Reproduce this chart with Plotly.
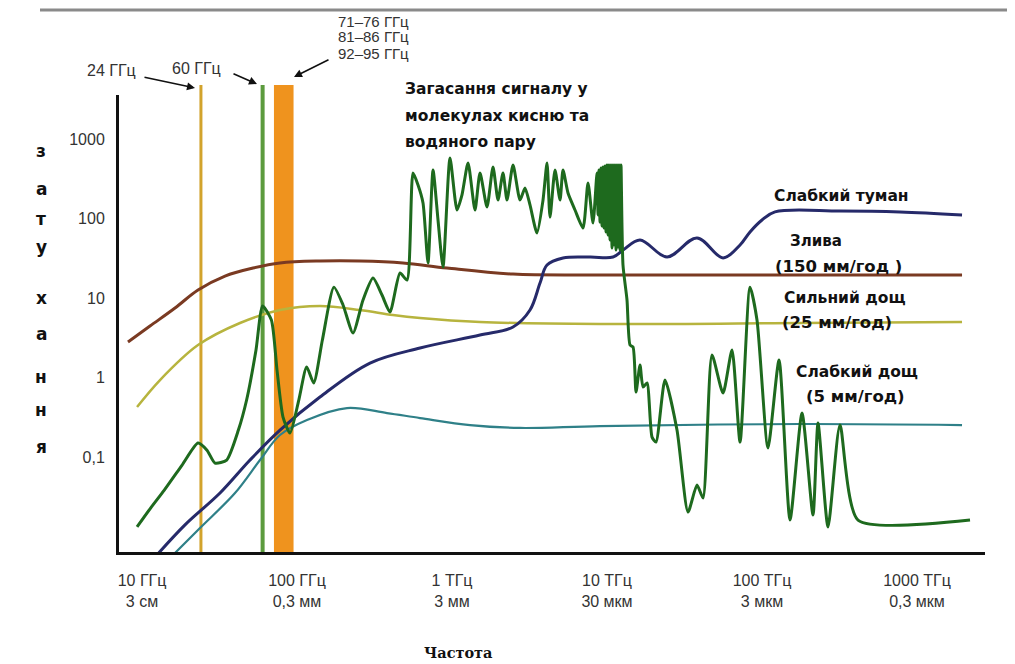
import plotly.graph_objects as go

# ---------------- data (frequency in GHz, attenuation in dB/km) ----------------
tick_freqs = [10, 100, 1000, 10000, 100000, 1000000]
tick_labels = ["10 ГГц<br>3 см", "100 ГГц<br>0,3 мм", "1 ТГц<br>3 мм",
               "10 ТГц<br>30 мкм", "100 ТГц<br>3 мкм", "1000 ТГц<br>0,3 мкм"]
att_ticks = [0.1, 1, 10, 100, 1000]
att_tick_labels = ["0,1", "1", "10", "100", "1000"]

line_24_ghz = 24
line_60_ghz = 60
band_e_ghz = [71, 95]

# Злива (150 мм/год)
heavy_f = [8.12, 11.26, 16.33, 22.98, 34.31, 52.02, 77.68, 140.7, 255, 483, 928, 2476, 9014, 175900, 1952000]
heavy_a = [2.80, 4.44, 7.48, 12.6, 18.9, 23.8, 27.6, 29.2, 29.2, 27.6, 23.8, 20.0, 19.5, 19.5, 19.5]

# Сильний дощ (25 мм/год)
strong_f = [9.29, 13.07, 22.98, 42.88, 77.68, 140.7, 255, 416, 622, 1516, 9014, 175900, 1952000]
strong_a = [0.425, 0.93, 2.56, 4.85, 7.06, 7.93, 7.06, 6.11, 5.60, 4.99, 4.71, 4.85, 4.99]

# Слабкий дощ (5 мм/год)
light_f = [15.61, 23.67, 39.81, 57.73, 77.68, 116, 210.2, 380.7, 622, 1307, 2746, 9014, 175900, 1952000]
light_a = [0.00568, 0.0128, 0.0352, 0.0916, 0.189, 0.292, 0.413, 0.357, 0.309, 0.252, 0.232, 0.245, 0.260, 0.252]

# Слабкий туман
fog_f = [12.31, 18.94, 31.86, 49.76, 77.68, 140.7, 295.8, 622, 1516, 2476, 3186, 3697, 4102, 5202, 7769,
         10932, 12680, 16330, 24390, 38070, 56040, 72180, 83700, 100000, 121300, 318600, 776800, 1952000]
fog_a = [0.00568, 0.0140, 0.0352, 0.0916, 0.218, 0.568, 1.52, 2.35, 3.42, 4.32, 7.06, 15.4, 26.0, 31.9, 32.8,
         32.8, 40.1, 53.7, 32.8, 56.9, 31.9, 46.4, 67.7, 95.7, 121, 124, 121, 111]

# Загасання в молекулах кисню та водяного пару
gas_f = [9.29, 11.36, 13.93, 18.14, 22.98, 26.26, 29.58, 35.19, 41.87, 47.30, 54.39, 60.0, 68.35, 74.30,
         81.23, 90.11, 102.7, 115.5, 128.2, 145.8, 173.0, 198.1, 229.8, 266.6, 309.3, 353.5, 398.1, 461.9,
         512.6, 560.4, 603.6, 650.2, 700.3, 754.4, 812.3, 874.9, 970.7, 1077, 1160, 1269, 1407, 1516, 1682,
         1839, 1981, 2133, 2264, 2476, 2746, 2958, 3186, 3535, 3866, 4102, 4289, 4619, 4976, 5202, 5603,
         6216, 7003, 7542, 8123,
         8620, 8749, 8880, 9013, 9148, 9285, 9424, 9565, 9708, 9853, 10000, 10150, 10302, 10456, 10612,
         10771, 10932, 11096, 11262, 11430, 11601, 11775, 11951, 12130, 12311,
         12680, 13460, 14080, 14720, 15390, 16330, 17080, 18120, 19520, 20710, 23670, 28290, 33320, 38070,
         41630, 47580, 56040, 64060, 72180, 83700, 92840, 109300, 128800, 151600, 181200, 213300, 229800,
         266600, 318600, 416300, 2198000]
gas_a = [0.0132, 0.0228, 0.0384, 0.0793, 0.150, 0.122, 0.0840, 0.0916, 0.218, 0.521, 2.22, 7.93, 5.29, 1.24,
         0.318, 0.200, 0.521, 1.36, 0.853, 2.96, 13.7, 8.17, 3.63, 9.44, 17.8, 10.9, 6.66, 20.6,
         16.8, 374, 264, 157, 27.6, 407, 95.7, 24.5, 577, 128, 198, 499, 128, 374, 140,
         444, 171, 374, 171, 471, 171, 242, 148, 65.7, 171, 499, 104, 407, 171, 407, 209,
         128, 75.9, 280, 87.8,
         374, 111, 407, 90.3, 432, 80.5, 444, 75.9, 457, 67.7, 471, 62.0, 471, 53.7, 471,
         42.5, 471, 46.4, 471, 40.1, 471, 43.8, 471, 40.1, 471,
         26.0, 9.44, 2.56, 2.42, 0.657, 1.44, 0.759, 0.853, 0.178, 0.154, 0.93, 0.218, 0.0203, 0.0444,
         0.0305, 1.92, 0.638, 2.22, 0.154, 13.7, 5.29, 0.130, 1.66, 0.0161, 0.357, 0.0186, 0.268,
         0.0132, 0.252, 0.0161, 0.0161]

# ---------------- figure ----------------
PAGE_OFF = 8              # default body margin of the html page
W, H = 1007, 656
L, R, T, B = 111, 30, 87, 112
PW, PH = W - L - R, H - T - B


def px(xpage):
    return (xpage - PAGE_OFF - L) / PW


def py(ypage):
    return (H - B - (ypage - PAGE_OFF)) / PH


fig = go.Figure()

fig.add_trace(go.Scatter(x=heavy_f, y=heavy_a, mode="lines", line=dict(color="#7A3A22", width=3, shape="spline"),
                         name="Злива"))
fig.add_trace(go.Scatter(x=strong_f, y=strong_a, mode="lines", line=dict(color="#B7B43E", width=2.5, shape="spline"),
                         name="Сильний дощ"))
fig.add_trace(go.Scatter(x=light_f, y=light_a, mode="lines", line=dict(color="#2F8088", width=2.2, shape="spline"),
                         name="Слабкий дощ"))
fig.add_trace(go.Scatter(x=fog_f, y=fog_a, mode="lines", line=dict(color="#262A6A", width=3, shape="spline"),
                         name="Слабкий туман"))
fig.add_trace(go.Scatter(x=gas_f, y=gas_a, mode="lines",
                         line=dict(color="#1E6A1E", width=3, shape="spline", smoothing=0.6),
                         name="Кисень та водяна пара"))

top_ext = 1 + 10 / PH
shapes = [
    dict(type="line", xref="x", yref="paper", x0=line_24_ghz, x1=line_24_ghz, y0=0, y1=top_ext,
         line=dict(color="#D2A32C", width=3), layer="below"),
    dict(type="line", xref="x", yref="paper", x0=line_60_ghz, x1=line_60_ghz, y0=0, y1=top_ext,
         line=dict(color="#5C9B3E", width=4), layer="below"),
    dict(type="rect", xref="x", yref="paper", x0=band_e_ghz[0], x1=band_e_ghz[1], y0=0, y1=top_ext,
         fillcolor="#EF931E", line=dict(width=0), layer="below"),
    dict(type="line", xref="paper", yref="paper", x0=px(40), x1=px(1015), y0=py(10), y1=py(10),
         line=dict(color="#8A8A8A", width=3)),
]

ann = []
small_font = dict(family="Liberation Sans Narrow, Arial Narrow, Liberation Sans, sans-serif", size=16,
                  color="#333333")


def add_text(text, xpage, ypage, font, xanchor="center"):
    ann.append(dict(x=px(xpage), y=py(ypage), xref="paper", yref="paper", text=text, showarrow=False,
                    xanchor=xanchor, yanchor="middle", font=font))


add_text("24 ГГц", 111, 71, small_font)
add_text("60 ГГц", 196, 68, small_font)
top_font = dict(small_font)
top_font["size"] = 15
for txt, yy in [("71–76 ГГц", 21), ("81–86 ГГц", 37), ("92–95 ГГц", 53)]:
    add_text(txt, 373, yy, top_font)

arrow_style = dict(showarrow=True, arrowhead=2, arrowsize=1, arrowwidth=1.6, arrowcolor="#111111",
                   xref="paper", yref="paper", text="", standoff=0, startstandoff=0)
ann.append(dict(x=px(195), y=py(88), ax=-52, ay=-11, **arrow_style))
ann.append(dict(x=px(257), y=py(84), ax=-25, ay=-11, **arrow_style))
ann.append(dict(x=px(294), y=py(77), ax=36, ay=-18, **arrow_style))

bold_font = dict(family="DejaVu Sans", size=15.5, color="#111111", weight="bold")
for txt, yy in [("Загасання сигналу у", 89), ("молекулах кисню та", 116), ("водяного пару", 142)]:
    add_text(txt, 403, yy, bold_font, xanchor="left")

for txt, xx, yy, sz in [("Слабкий туман", 841, 196, 15.5), ("Злива", 816, 241, 15), ("(150 мм/год )", 838, 266, 16.5),
                        ("Сильний дощ", 845, 298, 15.5), ("(25 мм/год)", 837, 322, 16.5),
                        ("Слабкий дощ", 857, 372, 15.5), ("(5 мм/год)", 855, 396, 16.5)]:
    f = dict(bold_font)
    f["size"] = sz
    add_text(txt, xx, yy, f)

for ch, yy in zip(["з", "а", "т", "у", "х", "а", "н", "н", "я"], [151, 189, 219, 247, 298, 334, 377, 410, 447]):
    add_text(ch, 41, yy, dict(family="DejaVu Sans", size=17, color="#111111", weight="bold"))

add_text("Частота", 458, 652, dict(family="DejaVu Serif", size=14.5, color="#111111", weight="bold"))

fig.update_layout(
    width=W, height=H,
    margin=dict(l=L, r=R, t=T, b=B),
    paper_bgcolor="white", plot_bgcolor="white",
    showlegend=False,
    shapes=shapes,
    annotations=ann,
)
tick_font = dict(family="Liberation Sans Narrow, Arial Narrow, Liberation Sans, sans-serif", size=16,
                 color="#333333")
fig.update_xaxes(type="log", range=[0.8516, 6.4387], tickvals=tick_freqs, ticktext=tick_labels,
                 showgrid=False, zeroline=False, showline=True, linecolor="#111111", linewidth=3,
                 ticks="", ticklabelstandoff=12, tickfont=tick_font)
fig.update_yaxes(type="log", range=[-2.195, 3.5535], tickvals=att_ticks, ticktext=att_tick_labels,
                 showgrid=False, zeroline=False, showline=True, linecolor="#111111", linewidth=3,
                 ticks="", ticklabelstandoff=8, tickfont=tick_font)

fig.write_html("out.html")
